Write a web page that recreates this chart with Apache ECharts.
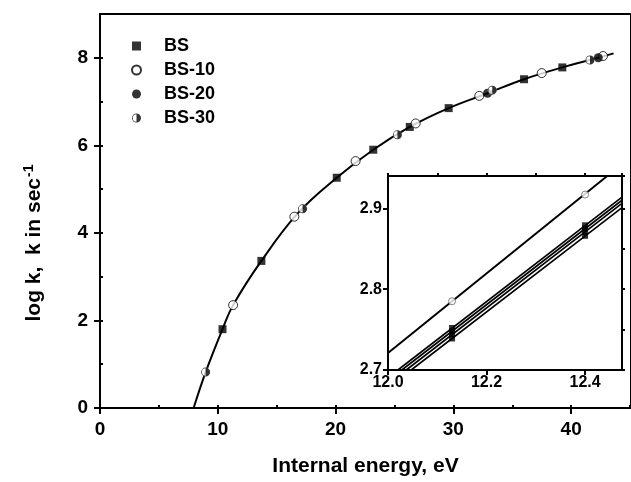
<!DOCTYPE html>
<html>
<head>
    <meta charset="utf-8">
    <title>log k vs internal energy</title>
    <script src="https://cdn.jsdelivr.net/npm/echarts@6/dist/echarts.min.js"></script>
    <style>
        html, body { margin: 0; padding: 0; background: #fff; }
        #main { width: 631px; height: 482px; }
    </style>
</head>
<body>
    <div id="main"></div>
    <script type="text/javascript">
        // main fitted curve
        var curveE = [7.95, 8.97, 10.4, 11.3, 13.7, 16.8, 20.1, 23.2, 26.3, 29.6, 32.9, 36.0, 39.25, 42.3, 43.6];
        var curveLogK = [0, 0.82, 1.80, 2.35, 3.36, 4.45, 5.26, 5.90, 6.42, 6.85, 7.19, 7.51, 7.78, 8.00, 8.10];

        // marker points per sample
        var bsE = [10.4, 13.7, 20.1, 23.2, 26.3, 29.6, 36.0, 39.25];
        var bsLogK = [1.80, 3.36, 5.26, 5.90, 6.42, 6.85, 7.51, 7.78];
        var bs10E = [11.3, 16.5, 21.7, 26.8, 32.2, 37.5, 42.7];
        var bs10LogK = [2.35, 4.37, 5.64, 6.50, 7.13, 7.65, 8.04];
        var bs20E = [32.9, 42.3];
        var bs20LogK = [7.19, 8.00];
        var bs30E = [8.97, 17.2, 25.25, 33.3, 41.6];
        var bs30LogK = [0.82, 4.55, 6.24, 7.26, 7.95];

        // inset: straight line end points
        var insetBS10 = [[12.0, 2.721], [12.445, 2.94]];
        var insetBundle = [
            [[12.020, 2.7], [12.475, 2.914]],
            [[12.028, 2.7], [12.475, 2.910]],
            [[12.037, 2.7], [12.475, 2.906]],
            [[12.047, 2.7], [12.475, 2.901]]
        ];
        var insetOpenE = [12.13, 12.40];
        var insetOpenLogK = [2.785, 2.917];
        var insetSqE = [12.13, 12.13, 12.13, 12.13, 12.40, 12.40, 12.40, 12.40];
        var insetSqLogK = [2.752, 2.748, 2.744, 2.739, 2.879, 2.875, 2.871, 2.866];

        function pairs(xs, ys) {
            return xs.map(function (x, i) { return [x, ys[i]]; });
        }

        var FONT = '"Liberation Sans", Arial, sans-serif';
        var HALF = 'path://M-10,0 A10,10 0 1,0 10,0 A10,10 0 1,0 -10,0 Z M-8.3,0 A8.3,8.3 0 1,1 8.3,0 A8.3,8.3 0 1,1 -8.3,0 Z M0,-8.3 A8.3,8.3 0 0,1 0,8.3 Z';

        var myChart = echarts.init(document.getElementById('main'), null, {renderer: 'canvas'});

        var mainLabel = {color: '#000', fontFamily: FONT, fontWeight: 'bold', fontSize: 19};
        var insetLabel = {color: '#000', fontFamily: FONT, fontWeight: 'bold', fontSize: 16};
        var blackLine = {lineStyle: {color: '#000', width: 2}};

        var series = [
            {
                type: 'line', xAxisIndex: 0, yAxisIndex: 0,
                data: pairs(curveE, curveLogK), smooth: 0.4, showSymbol: false,
                lineStyle: {color: '#000', width: 2}, silent: true, z: 2
            },
            {
                name: 'BS', type: 'scatter', xAxisIndex: 0, yAxisIndex: 0,
                data: pairs(bsE, bsLogK), symbol: 'rect', symbolSize: 8,
                itemStyle: {color: '#000'}, z: 4
            },
            {
                name: 'BS-10', type: 'scatter', xAxisIndex: 0, yAxisIndex: 0,
                data: pairs(bs10E, bs10LogK), symbol: 'circle', symbolSize: 9,
                itemStyle: {color: '#fff', borderColor: '#000', borderWidth: 1}, z: 4
            },
            {
                name: 'BS-20', type: 'scatter', xAxisIndex: 0, yAxisIndex: 0,
                data: pairs(bs20E, bs20LogK), symbol: 'circle', symbolSize: 9,
                itemStyle: {color: '#000'}, z: 5
            },
            {
                // white base under the half-filled markers
                type: 'scatter', xAxisIndex: 0, yAxisIndex: 0,
                data: pairs(bs30E, bs30LogK), symbol: 'circle', symbolSize: 9,
                itemStyle: {color: '#fff'}, z: 5, silent: true
            },
            {
                name: 'BS-30', type: 'scatter', xAxisIndex: 0, yAxisIndex: 0,
                data: pairs(bs30E, bs30LogK), symbol: HALF, symbolSize: 9,
                itemStyle: {color: '#000'}, z: 6
            },
            {
                type: 'line', xAxisIndex: 2, yAxisIndex: 2,
                data: insetBS10, showSymbol: false, silent: true,
                lineStyle: {color: '#000', width: 2}, z: 12
            }
        ];
        insetBundle.forEach(function (seg) {
            series.push({
                type: 'line', xAxisIndex: 2, yAxisIndex: 2,
                data: seg, showSymbol: false, silent: true,
                lineStyle: {color: '#000', width: 1.6}, z: 12
            });
        });
        series.push({
            type: 'scatter', xAxisIndex: 2, yAxisIndex: 2,
            data: pairs(insetSqE, insetSqLogK), symbol: 'rect', symbolSize: 6,
            itemStyle: {color: '#000'}, z: 13, silent: true
        });
        series.push({
            type: 'scatter', xAxisIndex: 2, yAxisIndex: 2,
            data: pairs(insetOpenE, insetOpenLogK), symbol: 'circle', symbolSize: 7,
            itemStyle: {color: '#fff', borderColor: '#666', borderWidth: 1}, z: 13, silent: true
        });

        var option = {
            backgroundColor: '#fff',
            animation: false,
            legend: {
                data: ['BS', 'BS-10', 'BS-20', 'BS-30'],
                orient: 'vertical',
                left: 126, top: 31,
                itemWidth: 9, itemHeight: 9, itemGap: 4,
                textStyle: {color: '#000', fontFamily: FONT, fontWeight: 'bold', fontSize: 18,
                    lineHeight: 20, padding: [0, 0, 0, 18]}
            },
            grid: [
                {left: 100, top: 14, right: -10, bottom: 70, show: true,
                    borderColor: '#000', borderWidth: 2, containLabel: false},
                {left: 388, top: 176, width: 234, height: 194, show: true,
                    backgroundColor: '#fff', borderColor: '#000', borderWidth: 2, z: 10}
            ],
            xAxis: [
                {
                    gridIndex: 0, type: 'value', min: 0, max: 45.08, interval: 10,
                    name: 'Internal energy, eV', nameLocation: 'middle', nameGap: 48,
                    nameTextStyle: {color: '#000', fontFamily: FONT, fontWeight: 'bold', fontSize: 21},
                    axisLine: blackLine, splitLine: {show: false},
                    axisTick: {length: 6, lineStyle: {color: '#000', width: 2}},
                    axisLabel: Object.assign({margin: 12, showMaxLabel: false}, mainLabel)
                },
                {
                    gridIndex: 0, type: 'value', min: 0, max: 45.08, interval: 5,
                    axisLine: {show: false}, splitLine: {show: false}, axisLabel: {show: false},
                    axisTick: {length: 3, lineStyle: {color: '#000', width: 2}}
                },
                {
                    gridIndex: 1, type: 'value', min: 12.0, max: 12.475, interval: 0.2,
                    axisLine: blackLine, splitLine: {show: false},
                    axisTick: {length: 5, lineStyle: {color: '#000', width: 2}},
                    axisLabel: Object.assign({margin: 5, showMaxLabel: false,
                        formatter: function (v) { return v.toFixed(1); }}, insetLabel)
                },
                {
                    gridIndex: 1, type: 'value', min: 12.0, max: 12.475, interval: 0.1,
                    axisLine: {show: false}, splitLine: {show: false}, axisLabel: {show: false},
                    axisTick: {length: 3, lineStyle: {color: '#000', width: 2}}
                }
            ],
            yAxis: [
                {
                    gridIndex: 0, type: 'value', min: 0, max: 9, interval: 2,
                    name: 'log k,  k in sec{sup|-1}', nameLocation: 'middle', nameGap: 54,
                    nameTextStyle: {color: '#000', fontFamily: FONT, fontWeight: 'bold', fontSize: 21,
                        padding: [0, 64, 0, 0],
                        rich: {sup: {fontFamily: FONT, fontWeight: 'bold', fontSize: 14,
                            verticalAlign: 'top', padding: [0, 0, 10, 1]}}},
                    axisLine: blackLine, splitLine: {show: false},
                    axisTick: {length: 6, lineStyle: {color: '#000', width: 2}},
                    axisLabel: Object.assign({margin: 12, showMaxLabel: false}, mainLabel)
                },
                {
                    gridIndex: 0, type: 'value', min: 0, max: 9, interval: 1,
                    axisLine: {show: false}, splitLine: {show: false}, axisLabel: {show: false},
                    axisTick: {length: 3, lineStyle: {color: '#000', width: 2}}
                },
                {
                    gridIndex: 1, type: 'value', min: 2.7, max: 2.94, interval: 0.1,
                    axisLine: blackLine, splitLine: {show: false},
                    axisTick: {length: 5, lineStyle: {color: '#000', width: 2}},
                    axisLabel: Object.assign({margin: 6, showMaxLabel: false,
                        formatter: function (v) { return v.toFixed(1); }}, insetLabel)
                },
                {
                    gridIndex: 1, type: 'value', min: 2.7, max: 2.94, interval: 0.05,
                    axisLine: {show: false}, splitLine: {show: false}, axisLabel: {show: false},
                    axisTick: {length: 3, lineStyle: {color: '#000', width: 2}}
                }
            ],
            series: series
        };
        myChart.setOption(option);
    </script>
</body>
</html>
